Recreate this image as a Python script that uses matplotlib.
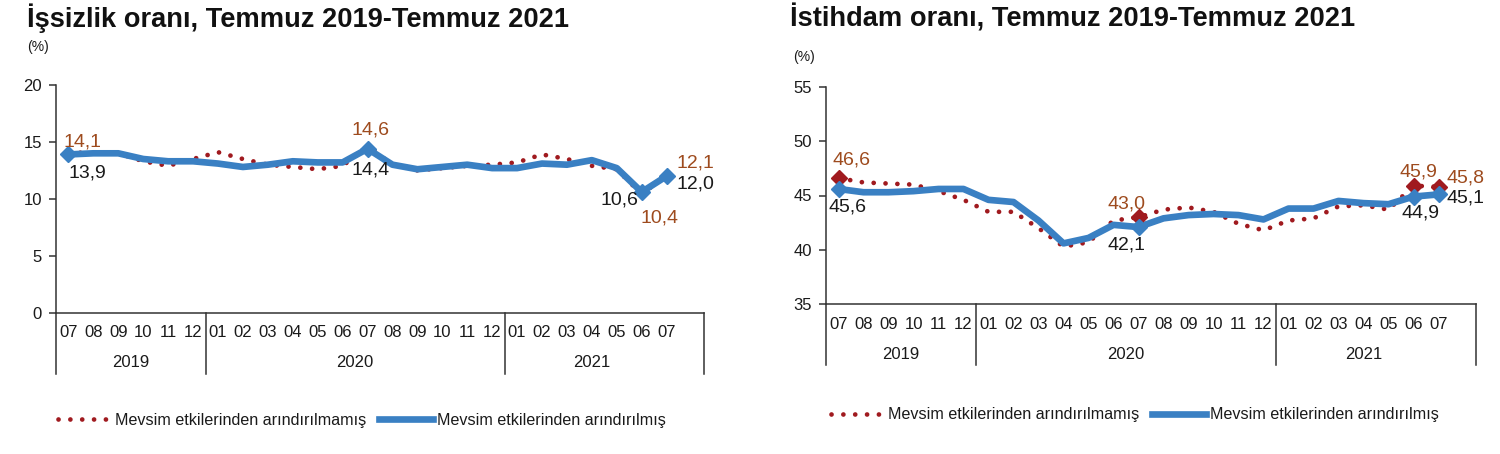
import numpy as np
import matplotlib
matplotlib.use("Agg")
import matplotlib.pyplot as plt
from matplotlib.lines import Line2D

plt.rcParams['font.family'] = ['Liberation Sans', 'DejaVu Sans']

# ---------------- data ----------------
months = ['07', '08', '09', '10', '11', '12',
          '01', '02', '03', '04', '05', '06', '07', '08', '09', '10', '11', '12',
          '01', '02', '03', '04', '05', '06', '07']
years = ['2019', '2020', '2021']
year_slots = [6, 12, 8]          # category slots per year (last one includes a blank slot)

unemp_nsa = [14.1, 14.0, 14.0, 13.3, 12.9, 13.5, 14.1, 13.5, 13.0, 12.8, 12.6, 12.9,
             14.6, 13.0, 12.5, 12.7, 12.9, 13.0, 13.2, 13.9, 13.5, 12.9, 12.6, 10.4, 12.1]
unemp_sa = [13.9, 14.0, 14.0, 13.5, 13.3, 13.3, 13.1, 12.8, 13.0, 13.3, 13.2, 13.2,
            14.4, 13.0, 12.6, 12.8, 13.0, 12.7, 12.7, 13.1, 13.0, 13.4, 12.7, 10.6, 12.0]

emp_nsa = [46.6, 46.2, 46.1, 46.0, 45.4, 44.6, 43.5, 43.5, 42.0, 40.3, 40.7, 42.7,
           43.0, 43.7, 43.9, 43.5, 42.4, 41.8, 42.7, 42.9, 44.0, 44.1, 43.7, 45.9, 45.8]
emp_sa = [45.6, 45.3, 45.3, 45.4, 45.6, 45.6, 44.6, 44.4, 42.7, 40.6, 41.1, 42.3,
          42.1, 42.9, 43.2, 43.3, 43.2, 42.8, 43.8, 43.8, 44.5, 44.3, 44.2, 44.9, 45.1]

labeled_idx = [0, 12, 23, 24]

legend_labels = ['Mevsim etkilerinden arındırılmamış', 'Mevsim etkilerinden arındırılmış']
titles = ['İşsizlik oranı, Temmuz 2019-Temmuz 2021', 'İstihdam oranı, Temmuz 2019-Temmuz 2021']

# ---------------- style ----------------
BLUE = '#3a80c3'
RED = '#a01a1f'
BROWN = '#9e4b1e'
DARK = '#1a1a1a'
DOT = (0, (0.01, 2.5))
DOT_LW = 3.4
BLUE_LW = 4.8

W, H = 1500, 454
fig = plt.figure(figsize=(W / 100, H / 100), dpi=100)


def fmt(v):
    return f"{v:.1f}".replace('.', ',')


def draw(ax, nsa, sa, ylim, yticks, off_nsa, off_sa, red_markers):
    x = np.arange(len(months))
    ax.set_xlim(-0.5, sum(year_slots) - 0.5)
    ax.set_ylim(*ylim)
    for s in ['top', 'right']:
        ax.spines[s].set_visible(False)
    for s in ['left', 'bottom']:
        ax.spines[s].set_color('#333333')
        ax.spines[s].set_linewidth(1.1)

    ax.plot(x, nsa, color=RED, lw=DOT_LW, linestyle=DOT, dash_capstyle='round', zorder=3)
    ax.plot(x, sa, color=BLUE, lw=BLUE_LW, solid_joinstyle='round', solid_capstyle='round', zorder=4)
    xi = [x[i] for i in labeled_idx]
    if red_markers:
        ax.plot(xi, [nsa[i] for i in labeled_idx], 'D', color=RED, ms=8, zorder=5)
    ax.plot(xi, [sa[i] for i in labeled_idx], 'D', color=BLUE, ms=8.5, zorder=6)

    for k, i in enumerate(labeled_idx):
        ax.annotate(fmt(nsa[i]), (x[i], nsa[i]), xytext=off_nsa[k], textcoords='offset points',
                    ha='center', va='center', fontsize=14, color=BROWN, zorder=7)
        ax.annotate(fmt(sa[i]), (x[i], sa[i]), xytext=off_sa[k], textcoords='offset points',
                    ha='center', va='center', fontsize=14, color=DARK, zorder=7)

    ax.set_yticks(yticks)
    ax.tick_params(axis='y', direction='out', length=5, width=1.1, pad=5, labelsize=12,
                   colors='#333333', labelcolor=DARK)
    ax.set_xticks(x)
    ax.set_xticklabels(months)
    ax.tick_params(axis='x', length=0, pad=9, labelsize=12, labelcolor=DARK)

    # year separators and year labels
    ax_h = ax.get_position().height * H
    sep = -61.0 / ax_h
    ylab = -50.0 / ax_h
    tr = ax.get_xaxis_transform()
    bounds = [-0.5]
    for n in year_slots:
        bounds.append(bounds[-1] + n)
    for b in bounds:
        ax.plot([b, b], [0, sep], transform=tr, color='#333333', lw=1.1, clip_on=False)
    for k, yr in enumerate(years):
        n_real = min(year_slots[k], len(months) - int(bounds[k] + 0.5))
        center = bounds[k] + n_real / 2.0
        ax.text(center, ylab, yr, transform=tr, ha='center', va='center', fontsize=12, color=DARK)


axL = fig.add_axes([56 / W, 1 - 312.7 / H, 648 / W, 227.7 / H])
axR = fig.add_axes([826 / W, 1 - 304.3 / H, 650 / W, 217.6 / H])

draw(axL, unemp_nsa, unemp_sa, (0, 20), [0, 5, 10, 15, 20],
     off_nsa=[(9.8, 7.4), (2.4, 11.7), (13.1, -17.3), (20.4, 8.4)],
     off_sa=[(13.4, -13.5), (2.4, -15.4), (-15.7, -6.0), (20.4, -5.9)],
     red_markers=False)
draw(axR, emp_nsa, emp_sa, (35, 55), [35, 40, 45, 50, 55],
     off_nsa=[(9.7, 12.9), (-8.6, 9.4), (3.2, 9.7), (19.7, 6.2)],
     off_sa=[(6.8, -13.1), (-8.6, -13.1), (4.7, -12.0), (19.7, -2.7)],
     red_markers=True)

# titles and unit labels
fig.text(27 / W, 1 - 18 / H, titles[0], ha='left', va='center', fontsize=19.6, fontweight='bold', color='#111111')
fig.text(790 / W, 1 - 18 / H, titles[1], ha='left', va='center', fontsize=19.6, fontweight='bold', color='#111111')
fig.text(27 / W, 1 - 47 / H, '(%)', ha='left', va='center', fontsize=10, color=DARK)
fig.text(793 / W, 1 - 57 / H, '(%)', ha='left', va='center', fontsize=10, color=DARK)

# legends
handles = [Line2D([], [], color=RED, lw=DOT_LW, linestyle=DOT, dash_capstyle='round'),
           Line2D([], [], color=BLUE, lw=BLUE_LW)]
for (lx, ly) in [(58, 420), (831, 415)]:
    fig.legend(handles, legend_labels, loc='center left', bbox_to_anchor=(lx / W, 1 - ly / H),
               ncol=2, frameon=False, fontsize=11.6, handlelength=3.3, handletextpad=0.25,
               columnspacing=0.8, borderpad=0, borderaxespad=0, labelcolor=DARK)

fig.savefig('out.png', dpi=100)
